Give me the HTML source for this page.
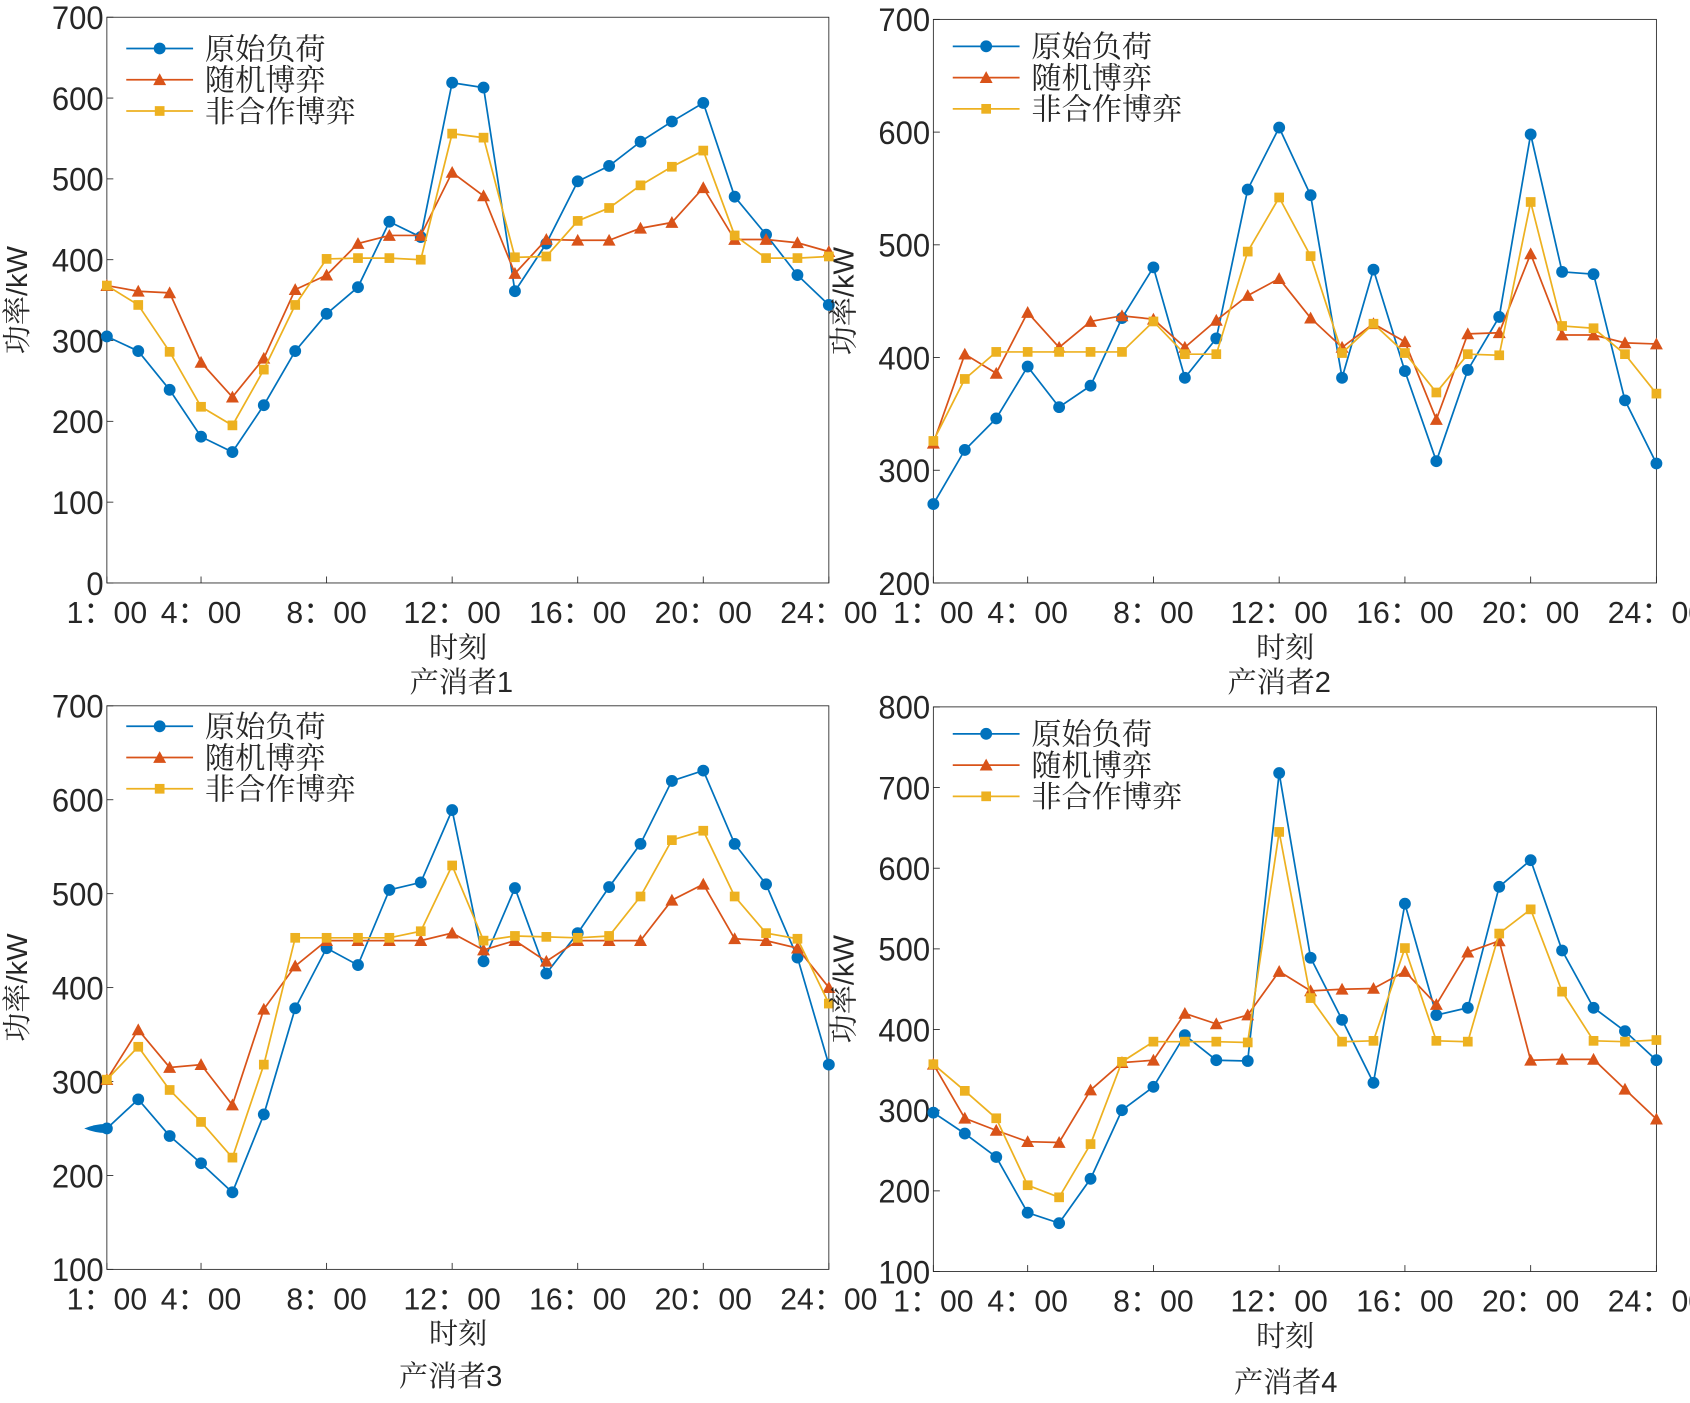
<!DOCTYPE html>
<html><head><meta charset="utf-8"><style>
html,body{margin:0;padding:0;background:#fff;}
svg{display:block;}
text{fill:#262626;}
</style></head><body>
<svg id="chart" width="1690" height="1403" viewBox="0 0 1568 1302" xmlns="http://www.w3.org/2000/svg"></svg>
<script>
const hours = [1,2,3,4,5,6,7,8,9,10,11,12,13,14,15,16,17,18,19,20,21,22,23,24];
const xTickHours = [1,4,8,12,16,20,24];
const xTickLabels = ["1：00","4：00","8：00","12：00","16：00","20：00","24：00"];
const seriesNames = ["原始负荷","随机博弈","非合作博弈"];
const p1Orig = [305,287,239,181,162,220,287,333,366,447,428,619,613,361,420,497,516,546,571,594,478,431,381,344];
const p1Rand = [368,361,359,273,230,278,363,381,420,430,430,508,479,383,425,424,424,439,446,489,425,425,421,410];
const p1Nonc = [368,344,286,218,195,264,344,401,402,402,400,556,551,403,404,448,464,492,515,535,430,402,402,404];
const p2Orig = [270,318,346,392,356,375,435,480,382,417,549,604,544,382,478,388,308,389,436,598,476,474,362,306];
const p2Rand = [324,403,386,440,409,432,437,434,409,433,455,470,435,409,430,414,345,421,422,492,420,420,413,412];
const p2Nonc = [326,381,405,405,405,405,405,432,403,403,494,542,490,404,430,404,369,403,402,538,428,426,403,368];
const p3Orig = [250,281,242,213,182,265,378,442,424,504,512,589,428,506,415,458,507,553,620,631,553,510,432,318];
const p3Rand = [302,355,315,318,275,377,423,450,450,450,450,458,440,450,428,450,450,450,493,510,452,450,442,400];
const p3Nonc = [302,337,291,257,219,318,453,453,453,453,460,530,450,455,454,453,455,497,557,567,497,458,452,383];
const p4Orig = [297,271,242,173,160,215,300,329,393,362,361,718,489,412,334,556,418,427,577,610,498,427,398,362];
const p4Rand = [357,290,275,261,260,325,359,362,420,407,418,472,448,450,451,472,431,496,510,362,363,363,326,289];
const p4Nonc = [357,324,290,207,192,258,360,385,385,385,384,645,439,385,386,501,386,385,519,549,447,386,385,387];
const p1Ticks = [0,100,200,300,400,500,600,700];
const p2Ticks = [200,300,400,500,600,700];
const p3Ticks = [100,200,300,400,500,600,700];
const p4Ticks = [100,200,300,400,500,600,700,800];

const NS="http://www.w3.org/2000/svg";
const svg=document.getElementById('chart');
const colors=["#0072BD","#D95319","#EDB120"];
function mk(tag,attrs,parent){const e=document.createElementNS(NS,tag);for(const k in attrs)e.setAttribute(k,attrs[k]);(parent||svg).appendChild(e);return e;}

const panels=[
 {L:99,R:769,T:16,B:541,ymin:0,ymax:700,ticks:p1Ticks,data:[p1Orig,p1Rand,p1Nonc],title:"产消者1",tx:428,ty:642,legY:45},
 {L:866,R:1537,T:18,B:541,ymin:200,ymax:700,ticks:p2Ticks,data:[p2Orig,p2Rand,p2Nonc],title:"产消者2",tx:1187,ty:642,legY:43},
 {L:99,R:769,T:655,B:1178,ymin:100,ymax:700,ticks:p3Ticks,data:[p3Orig,p3Rand,p3Nonc],title:"产消者3",tx:418,ty:1286,legY:674},
 {L:866,R:1537,T:656,B:1180,ymin:100,ymax:800,ticks:p4Ticks,data:[p4Orig,p4Rand,p4Nonc],title:"产消者4",tx:1193,ty:1292,legY:681}
];

panels.forEach((p,pi)=>{
  const g=mk('g',{});
  
  
  const xs=h=>p.L+(h-1)/23*(p.R-p.L);
  const ys=v=>p.B-(v-p.ymin)/(p.ymax-p.ymin)*(p.B-p.T);
  const frame=mk('rect',{x:p.L,y:p.T,width:p.R-p.L,height:p.B-p.T,fill:'none',stroke:'#262626','stroke-width':0.8},g);
  
  
  p.ticks.forEach(v=>{
    const y=ys(v);
    mk('line',{x1:p.L,x2:p.L+6,y1:y,y2:y,stroke:'#262626','stroke-width':0.8},g);
    const t=mk('text',{x:p.L-3,y:y+11,'text-anchor':'end','font-family':'Liberation Sans, sans-serif','font-size':30,'textLength':String(v).length*16,'lengthAdjust':'spacingAndGlyphs'},g);
    t.textContent=v;
    
    
  });
  xTickHours.forEach((h,i)=>{
    const x=xs(h);
    mk('line',{x1:x,x2:x,y1:p.B,y2:p.B-6,stroke:'#262626','stroke-width':0.8},g);
    const t=mk('text',{x:x,y:p.B+37,'text-anchor':'middle','font-family':'Liberation Sans, Noto Sans CJK SC, sans-serif','font-size':28},g);
    t.textContent=xTickLabels[i];
    
    
  });
  const yl=mk('text',{x:0,y:0,'text-anchor':'middle','font-family':'Liberation Sans, Noto Serif CJK SC, serif','font-size':27,transform:`translate(${p.L-74},${(p.T+p.B)/2}) rotate(-90)`},g);
  yl.textContent='功率/kW';
  
  
  const xl=mk('text',{x:(p.L+p.R)/2-9,y:p.B+69,'text-anchor':'middle','font-family':'Noto Serif CJK SC, serif','font-size':27},g);
  xl.textContent='时刻';
  
  
  const tt=mk('text',{x:p.tx,y:p.ty,'text-anchor':'middle','font-family':'Liberation Sans, Noto Serif CJK SC, serif','font-size':27},g);
  tt.textContent=p.title;
  
  
  p.data.forEach((arr,si)=>{
    const c=colors[si];
    const pts=arr.map((v,i)=>xs(hours[i]).toFixed(1)+','+ys(v).toFixed(1)).join(' ');
    const pl=mk('polyline',{points:pts,fill:'none',stroke:c,'stroke-width':1.6},g);
    
    
    arr.forEach((v,i)=>{
      const x=xs(hours[i]),y=ys(v);let m;
      if(si===0)m=mk('circle',{cx:x,cy:y,r:5.5,fill:c},g);
      else if(si===1)m=mk('polygon',{points:`${x},${y-6} ${x-6},${y+5} ${x+6},${y+5}`,fill:c},g);
      else m=mk('rect',{x:x-4.5,y:y-4.5,width:9,height:9,fill:c},g);
      
      
    });
  });
  seriesNames.forEach((n,si)=>{
    const y=p.legY+si*29,x0=p.L+18,c=colors[si];
    const lg=mk('g',{},g);
    
    
    mk('line',{x1:x0,x2:x0+62,y1:y,y2:y,stroke:c,'stroke-width':1.6},lg);
    const cx=x0+31;
    if(si===0)mk('circle',{cx:cx,cy:y,r:5.5,fill:c},lg);
    else if(si===1)mk('polygon',{points:`${cx},${y-6} ${cx-6},${y+5} ${cx+6},${y+5}`,fill:c},lg);
    else mk('rect',{x:cx-4.5,y:y-4.5,width:9,height:9,fill:c},lg);
    const t=mk('text',{x:x0+73,y:y+10,'font-family':'Noto Serif CJK SC, serif','font-size':28},lg);
    t.textContent=n;
  });
  if(pi===2){
    const b=mk('path',{d:`M78,${ys(250)} Q90,${ys(250)-5} 102,${ys(250)-4} L102,${ys(250)+4} Q90,${ys(250)+5} 78,${ys(250)} Z`,fill:colors[0]},g);
    
    
  }
});
</script>
</body></html>
